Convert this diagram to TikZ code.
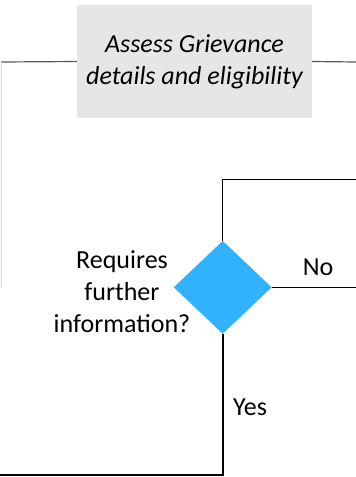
\documentclass[tikz,border=0pt]{standalone}
\usepackage{fontspec}
\setmainfont{Carlito}
\usepackage{xcolor}
\usepackage{tikz}
\usetikzlibrary{shapes,positioning}

\definecolor{boxgray}{HTML}{E6E6E6}
\definecolor{decblue}{HTML}{30B2FF}
\definecolor{linegray}{HTML}{595959}
\definecolor{palegray}{HTML}{D4D4D4}

\begin{document}
\begin{tikzpicture}[
    x=1pt, y=-1pt,
    task/.style={rectangle, fill=boxgray, minimum width=235pt, minimum height=113pt, inner sep=0pt, align=center, font=\itshape\fontsize{26}{32}\selectfont},
    decision/.style={diamond, fill=decblue, minimum width=98pt, minimum height=93pt, inner sep=0pt},
    txt/.style={inner sep=0pt, align=center, font=\fontsize{26}{32}\selectfont},
    flow/.style={black, line width=1pt},
    strong/.style={black, line width=2pt}
]
    \useasboundingbox (0,0) rectangle (356,477);

    \node[task] (assess) at (194.5,61.5) {Assess Grievance\\details and eligibility};
    \node[decision] (decide) at (222.7,287.3) {};

    \node[txt] (question) at (122,291.5) {Requires\\further\\information?};
    \node[txt] (no) at (318,267) {No};
    \node[txt] (yes) at (250,407) {Yes};

    \coordinate (lefttop) at (1,62);
    \coordinate (leftbot) at (1,288);
    \coordinate (rightend) at (356,62);
    \coordinate (topend) at (356,179.3);
    \coordinate (noend) at (356,287.3);
    \coordinate (yesend) at (0,475);

    \draw[linegray, line width=1.2pt] (assess.west) -- (lefttop);
    \draw[linegray, line width=1.2pt] (assess.east) -- (rightend);
    \draw[palegray, line width=1pt] (lefttop) -- (leftbot);

    \draw[flow] (decide.north) |- (topend);
    \draw[flow] (decide.east) -- (noend);
    \draw[strong] (decide.south) |- (yesend);
\end{tikzpicture}
\end{document}
